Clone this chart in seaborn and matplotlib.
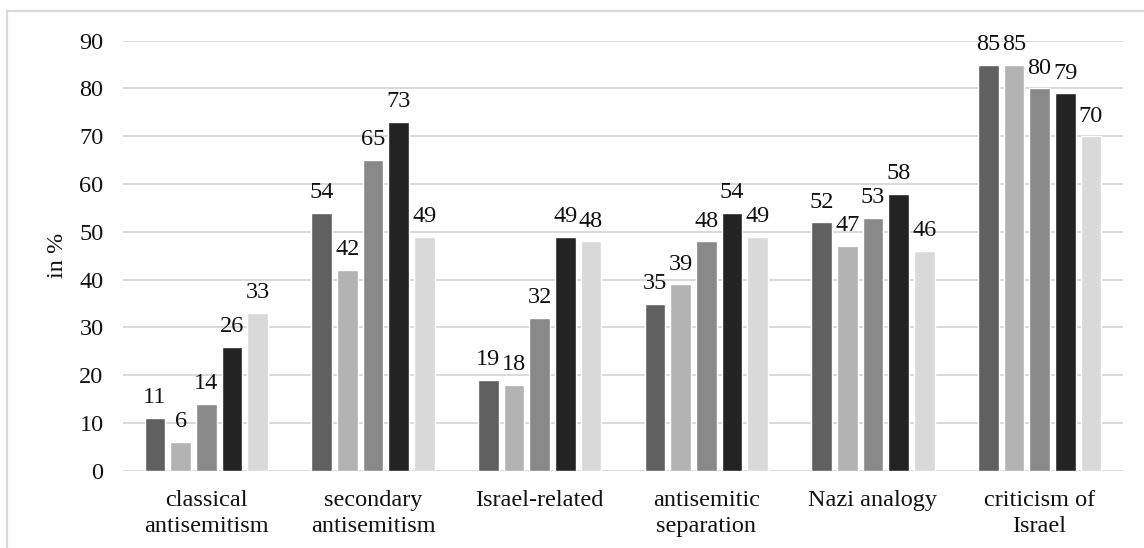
import matplotlib
matplotlib.use("Agg")
import matplotlib.pyplot as plt
from matplotlib.lines import Line2D
import seaborn as sns
import pandas as pd

categories = [
    "classical\nantisemitism",
    "secondary\nantisemitism",
    "Israel-related",
    "antisemitic\nseparation",
    "Nazi analogy",
    "criticism of\nIsrael",
]
series_names = ["S1", "S2", "S3", "S4", "S5"]
s1 = [11, 54, 19, 35, 52, 85]
s2 = [6, 42, 18, 39, 47, 85]
s3 = [14, 65, 32, 48, 53, 80]
s4 = [26, 73, 49, 54, 58, 79]
s5 = [33, 49, 48, 49, 46, 70]
y_ticks = [0, 10, 20, 30, 40, 50, 60, 70, 80, 90]

colors = ["#606060", "#b3b3b3", "#898989", "#232323", "#d9d9d9"]

rows = []
for name, vals in zip(series_names, [s1, s2, s3, s4, s5]):
    for cat, v in zip(categories, vals):
        rows.append({"category": cat, "series": name, "value": v})
df = pd.DataFrame(rows)

sns.set_style("white")
plt.rcParams["font.family"] = ["Liberation Serif", "DejaVu Serif"]

fig = plt.figure(figsize=(11.44, 5.48), dpi=100)
ax = fig.add_axes([0.1075, 0.141, 0.8741, 0.7847])

sns.barplot(
    data=df, x="category", y="value", hue="series",
    order=categories, hue_order=series_names,
    palette=colors, width=0.77, gap=0.2, legend=False,
    saturation=1, ax=ax, errorbar=None,
)

for cont in ax.containers:
    ax.bar_label(cont, fmt="%g", padding=7, fontsize=17.5, color="#111111",
                 clip_on=False)

ax.set_ylim(0, 90)
ax.set_yticks(y_ticks)
ax.set_xlim(-0.5, len(categories) - 0.5)
ax.yaxis.grid(True, color="#d9d9d9", linewidth=1.4)
ax.set_axisbelow(True)
for side in ["top", "right", "left", "bottom"]:
    ax.spines[side].set_visible(False)
ax.tick_params(axis="y", length=0, pad=14, labelsize=17.5, labelcolor="#111111")
ax.tick_params(axis="x", length=0, pad=14, labelsize=17.5, labelcolor="#111111")
for lbl in ax.get_xticklabels():
    lbl.set_linespacing(1.3)
ax.set_xlabel("")
ax.set_ylabel("in %", fontsize=17.5, color="#111111", labelpad=8)

# thin frame around the chart area (left and top edges)
x0 = 7 / 1144
y0 = 1 - 11 / 548
fig.add_artist(Line2D([x0, x0], [0, y0], transform=fig.transFigure,
                      color="#d9d9d9", linewidth=1.6))
fig.add_artist(Line2D([x0, 1], [y0, y0], transform=fig.transFigure,
                      color="#d9d9d9", linewidth=1.6))

fig.savefig("out.png", dpi=100)
